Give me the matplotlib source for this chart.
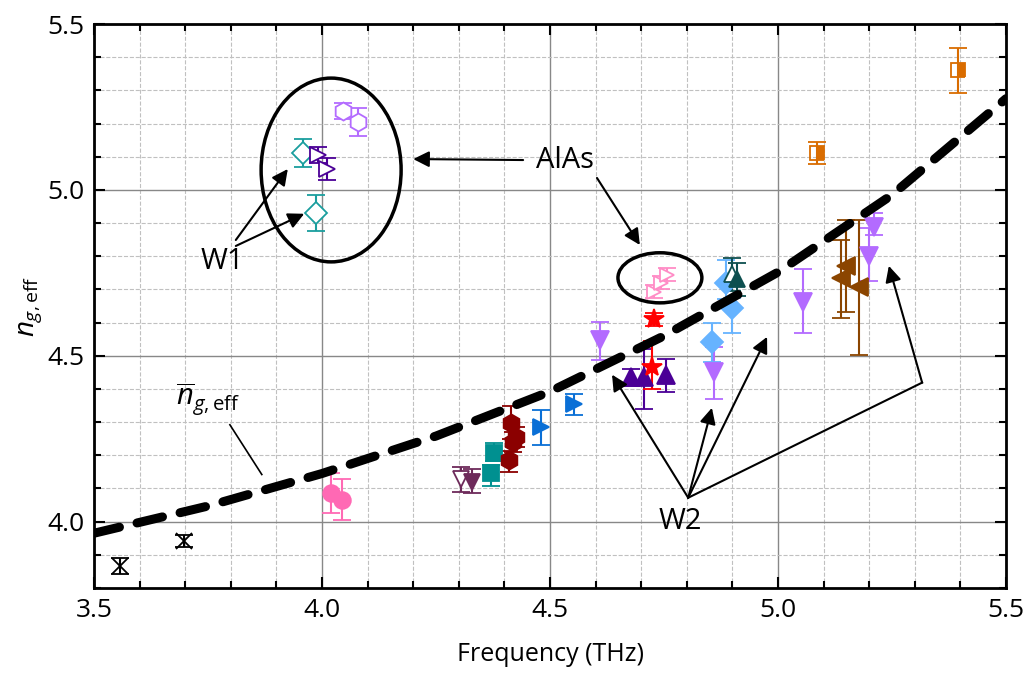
import matplotlib
matplotlib.use("Agg")
import matplotlib.pyplot as plt
from matplotlib.patches import Ellipse
from matplotlib.ticker import MultipleLocator

plt.rcParams['font.family'] = ['Open Sans', 'DejaVu Sans']
plt.rcParams['mathtext.fontset'] = 'custom'
plt.rcParams['mathtext.rm'] = 'Open Sans'
plt.rcParams['mathtext.it'] = 'Open Sans:italic'

# mean group index curve
fit_x = [3.50, 3.75, 4.00, 4.25, 4.50, 4.75, 5.00, 5.25, 5.50]
fit_y = [3.965, 4.047, 4.145, 4.258, 4.392, 4.560, 4.752, 4.985, 5.275]

# measured points: x, y, lower err, upper err
blk_x = [3.557, 3.697]; blk_y = [3.866, 3.942]; blk_lo = [0.023, 0.017]; blk_hi = [0.023, 0.017]
pnk_x = [4.020, 4.043]; pnk_y = [4.087, 4.066]; pnk_lo = [0.060, 0.060]; pnk_hi = [0.061, 0.061]
mar_x = [4.305, 4.330]; mar_y = [4.127, 4.120]; mar_lo = [0.037, 0.033]; mar_hi = [0.039, 0.040]
tea_x = [4.370, 4.377]; tea_y = [4.148, 4.208]; tea_lo = [0.040, 0.024]; tea_hi = [0.022, 0.030]
hex_x = [4.410, 4.418, 4.425, 4.415]; hex_y = [4.187, 4.240, 4.256, 4.298]
hex_lo = [0.037, 0.030, 0.030, 0.050]; hex_hi = [0.025, 0.030, 0.030, 0.052]
blu_x = [4.480, 4.552]; blu_y = [4.286, 4.355]; blu_lo = [0.054, 0.035]; blu_hi = [0.051, 0.031]
vio_x = [4.610, 4.860, 5.055, 5.200, 5.210]; vio_y = [4.548, 4.450, 4.663, 4.800, 4.889]
vio_lo = [0.060, 0.080, 0.095, 0.075, 0.025]; vio_hi = [0.055, 0.077, 0.100, 0.085, 0.040]
ind_x = [4.677, 4.706, 4.754]; ind_y = [4.437, 4.437, 4.443]
ind_lo = [0.027, 0.097, 0.053]; ind_hi = [0.023, 0.083, 0.047]
red_x = [4.727, 4.723]; red_y = [4.610, 4.467]; red_lo = [0.020, 0.067]; red_hi = [0.020, 0.078]
ala_x = [4.727, 4.743, 4.756]; ala_y = [4.693, 4.720, 4.744]; ala_e = [0.020, 0.020, 0.020]
lbl_x = [4.855, 4.887, 4.900]; lbl_y = [4.540, 4.720, 4.645]
lbl_lo = [0.060, 0.050, 0.075]; lbl_hi = [0.060, 0.070, 0.030]
dtl_x = [4.900, 4.910]; dtl_y = [4.745, 4.730]; dtl_e = [0.050, 0.050]
brn_x = [5.139, 5.150, 5.178]; brn_y = [4.735, 4.771, 4.708]
brn_lo = [0.121, 0.138, 0.205]; brn_hi = [0.114, 0.139, 0.202]
org_x = [5.086, 5.395]; org_y = [5.111, 5.361]; org_e = [0.032, 0.068]
w1d_x = [3.958, 3.987]; w1d_y = [5.111, 4.930]; w1d_e = [0.043, 0.054]
w1t_x = [3.991, 4.011]; w1t_y = [5.105, 5.063]; w1t_e = [0.025, 0.033]
w1h_x = [4.046, 4.079]; w1h_y = [5.238, 5.205]; w1h_e = [0.024, 0.043]

fig = plt.figure(figsize=(10.25, 6.77), dpi=100)
ax = fig.add_axes([0.0917, 0.1315, 0.8898, 0.833])


def pts(x, y, lo, hi, m, c, ms=11, face=None, fill='full'):
    ax.errorbar(x, y, yerr=[lo, hi], fmt=m, color=c, ms=ms, mfc=face if face else c,
                mec=c, mew=1.3, fillstyle=fill, ecolor=c, elinewidth=1.5,
                capsize=6.5, capthick=1.5, ls='none', zorder=4)


pts(blk_x, blk_y, blk_lo, blk_hi, 'x', 'black', ms=12)
pts(pnk_x, pnk_y, pnk_lo, pnk_hi, 'o', '#ff69b4', ms=12)
pts(mar_x[:1], mar_y[:1], mar_lo[:1], mar_hi[:1], 'v', '#6d2a5a', face='white')
pts(mar_x[1:], mar_y[1:], mar_lo[1:], mar_hi[1:], 'v', '#6d2a5a')
pts(tea_x, tea_y, tea_lo, tea_hi, 's', '#009090')
pts(hex_x, hex_y, hex_lo, hex_hi, 'h', '#8b0000', ms=13)
pts(blu_x, blu_y, blu_lo, blu_hi, '>', '#0a6fd6', ms=12)
pts(vio_x, vio_y, vio_lo, vio_hi, 'v', '#b36bff', ms=13)
pts(ind_x, ind_y, ind_lo, ind_hi, '^', '#4b0096', ms=13)
pts(red_x, red_y, red_lo, red_hi, '*', '#ff0000', ms=15)
pts(ala_x, ala_y, ala_e, ala_e, '>', '#ff8cc6', ms=10, face='white')
pts(lbl_x, lbl_y, lbl_lo, lbl_hi, 'D', '#66b3ff', ms=11)
pts(dtl_x[:1], dtl_y[:1], dtl_e[:1], dtl_e[:1], '^', '#0d4f4f', face='white')
pts(dtl_x[1:], dtl_y[1:], dtl_e[1:], dtl_e[1:], '^', '#0d4f4f')
pts(brn_x, brn_y, brn_lo, brn_hi, '<', '#8b4500', ms=13)
pts(org_x, org_y, org_e, org_e, 's', '#d96c00', ms=10, face='#d96c00', fill='right')
pts(w1d_x, w1d_y, w1d_e, w1d_e, 'D', '#1a9e9e', ms=11, face='white')
pts(w1t_x, w1t_y, w1t_e, w1t_e, '>', '#4b0096', ms=12, face='white')
pts(w1h_x, w1h_y, w1h_e, w1h_e, 'h', '#b36bff', ms=13, face='white')

ax.plot(fit_x, fit_y, color='black', lw=6.5, dashes=(2.9, 2.0),
        dash_capstyle='round', zorder=5)

# annotations
ax.add_patch(Ellipse((4.02, 5.06), 0.307, 0.554, fill=False, lw=2.5, color='black', zorder=6))
ax.add_patch(Ellipse((4.741, 4.735), 0.184, 0.151, fill=False, lw=2.5, color='black', zorder=6))
arw = dict(arrowstyle='-|>', color='black', lw=1.5, mutation_scale=24, shrinkA=0, shrinkB=0)
fs = 21
ax.text(4.533, 5.09, 'AlAs', fontsize=fs, ha='center', va='center', zorder=7)
ax.annotate('', xy=(4.20, 5.093), xytext=(4.441, 5.09), arrowprops=arw, zorder=7)
ax.annotate('', xy=(4.697, 4.834), xytext=(4.603, 5.036), arrowprops=arw, zorder=7)
ax.text(3.781, 4.783, 'W1', fontsize=fs, ha='center', va='center', zorder=7)
ax.annotate('', xy=(3.925, 5.063), xytext=(3.811, 4.849), arrowprops=arw, zorder=7)
ax.annotate('', xy=(3.961, 4.928), xytext=(3.811, 4.831), arrowprops=arw, zorder=7)
ax.text(4.785, 4.0, 'W2', fontsize=fs, ha='center', va='center', zorder=7)
for hx, hy in [(4.636, 4.443), (4.855, 4.343), (4.976, 4.557)]:
    ax.annotate('', xy=(hx, hy), xytext=(4.803, 4.072), arrowprops=arw, zorder=7)
ax.plot([4.803, 5.316], [4.072, 4.419], color='black', lw=1.5, zorder=7)
ax.annotate('', xy=(5.243, 4.771), xytext=(5.316, 4.419), arrowprops=arw, zorder=7)
ax.text(3.75, 4.367, r'$\overline{n}_{g,\mathrm{eff}}$', fontsize=fs, ha='center', va='center', zorder=7)
ax.plot([3.798, 3.868], [4.292, 4.142], color='black', lw=1.2, zorder=7)

ax.set_xlim(3.5, 5.5)
ax.set_ylim(3.8, 5.5)
ax.xaxis.set_major_locator(MultipleLocator(0.5))
ax.xaxis.set_minor_locator(MultipleLocator(0.1))
ax.yaxis.set_major_locator(MultipleLocator(0.5))
ax.yaxis.set_minor_locator(MultipleLocator(0.1))
ax.xaxis.set_major_formatter(plt.FormatStrFormatter('%.1f'))
ax.yaxis.set_major_formatter(plt.FormatStrFormatter('%.1f'))
ax.grid(which='major', color='#888888', lw=1.0, ls='-')
ax.grid(which='minor', color='#c0c0c0', lw=0.8, ls='--')
ax.set_axisbelow(True)
ax.tick_params(which='both', direction='in', top=True, right=True, width=1.5, labelsize=19)
ax.tick_params(which='major', length=8, pad=7)
ax.tick_params(which='minor', length=5)
for s in ax.spines.values():
    s.set_linewidth(2)
ax.set_xlabel('Frequency (THz)', fontsize=18, labelpad=14)
ax.set_ylabel(r'$n_{g,\mathrm{eff}}$', fontsize=20, labelpad=2)

fig.savefig('out.png', dpi=100)
